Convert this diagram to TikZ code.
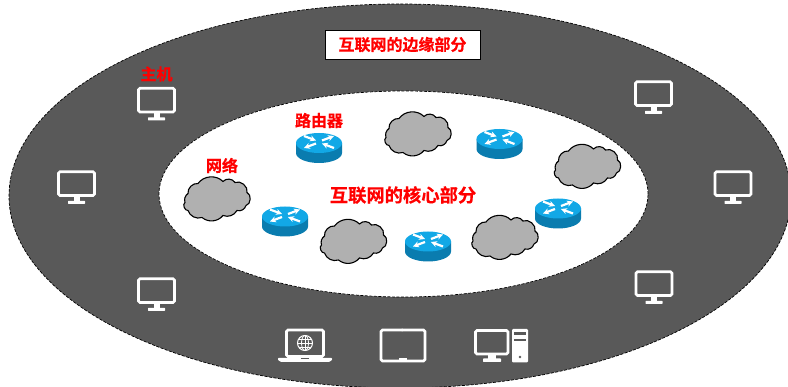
\documentclass[tikz,border=0pt]{standalone}
\usepackage{fontspec}
\usetikzlibrary{arrows.meta}
\setmainfont{Liberation Sans}
\newfontfamily\cjkbold[FakeBold=0.6]{Noto Sans CJK SC Bold}
\definecolor{darkring}{HTML}{595959}
\definecolor{cloudgray}{HTML}{B0B0B0}
\definecolor{routertop}{HTML}{12A8E6}
\definecolor{routerside}{HTML}{0A7CAF}
\definecolor{labelred}{HTML}{FF0000}
\tikzset{
  redlabel/.style={text=labelred,font=\cjkbold\fontsize{16pt}{18pt}\selectfont,inner sep=0pt},
  icon/.style={draw=white,line width=2.7pt,rounded corners=1.5pt},
  iconfill/.style={fill=white,rounded corners=0.6pt},
  ringedge/.style={draw=black,line width=0.7pt,dash pattern=on 3pt off 1.5pt},
  routerarrow/.style={white,line width=2.2pt,-{Stealth[length=6pt,width=6pt]}},
  monitor/.pic={
    \draw[icon] (-18,-15.3) rectangle (18,8.5);
    \fill[white] (-3,9) rectangle (3,15);
    \fill[iconfill] (-8.5,13.8) rectangle (8.5,17);
  },
  router/.pic={
    \fill[routerside] (-23,-5) -- (-23,5) arc[start angle=180,end angle=360,x radius=23pt,y radius=10pt] -- (23,-5) -- cycle;
    \fill[routertop] (0,-5) ellipse[x radius=23pt,y radius=10pt];
    \draw[routerarrow] (3,-7.5) -- (15,-12);
    \draw[routerarrow] (-3,-4.5) -- (-15,0);
    \draw[routerarrow] (-15,-12) -- (-3,-7.5);
    \draw[routerarrow] (15,0) -- (3,-4.5);
  },
  cloudshape/.pic={
    \draw[fill=cloudgray,draw=black,line width=1.1pt]
      (-31,3) to[bend left=35] (-28,-6)
      to[bend left=50] (-18,-16)
      to[bend left=50] (7,-18)
      to[bend left=55] (19,-17)
      to[bend left=65] (31,-7)
      to[bend left=75] (30,6)
      to[bend left=45] (21,11)
      to[bend left=40] (7,16)
      to[bend left=45] (-14,18)
      to[bend left=45] (-28,11)
      to[bend left=80] cycle;
  },
}
\begin{document}
\begin{tikzpicture}[x=1pt,y=-1pt]
\useasboundingbox (0,0) rectangle (788,387);
\fill[white] (0,0) rectangle (788,387);
\begin{scope}
  \clip (0,0) rectangle (788,387);
  \path[fill=darkring,ringedge] (400,196) ellipse[x radius=391pt,y radius=192pt];
\end{scope}
\path[fill=white,ringedge] (403.5,194) ellipse[x radius=244.5pt,y radius=103pt];

\node[draw=black,fill=white,line width=0.8pt,minimum width=155pt,minimum height=29pt,inner sep=0pt,text=labelred,font=\cjkbold\fontsize{16pt}{18pt}\selectfont] (edgelabel) at (402.5,44.5) {互联网的边缘部分};
\node[redlabel] (hostlabel) at (156.5,74) {主机};
\node[redlabel] (routerlabel) at (319,120.5) {路由器};
\node[redlabel] (netlabel) at (222,165.5) {网络};
\node[redlabel,font=\cjkbold\fontsize{18.3pt}{20pt}\selectfont] (corelabel) at (403,195) {互联网的核心部分};

\pic at (156.5,103.5) {monitor};
\pic at (653.5,97) {monitor};
\pic at (76.5,187) {monitor};
\pic at (733,187) {monitor};
\pic at (156.5,294) {monitor};
\pic at (654,287) {monitor};

\pic at (216,199.5) {cloudshape};
\pic at (352.5,242) {cloudshape};
\pic at (417,134.5) {cloudshape};
\pic at (586.5,167) {cloudshape};
\pic at (504,238) {cloudshape};

\pic at (319,148) {router};
\pic at (285,221.5) {router};
\pic at (428,246.5) {router};
\pic at (558,213.5) {router};
\pic at (499.5,144) {router};

% laptop
\draw[icon] (286.5,330) rectangle (323.5,356.5);
\fill[iconfill] (278,358) -- (332,358) -- (332,360) -- (329,362) -- (281,362) -- (278,360) -- cycle;
\fill[darkring] (301,358) rectangle (309,359.3);
\draw[white,line width=1pt] (305,343) circle[radius=7.5pt];
\draw[white,line width=0.8pt] (305,343) ellipse[x radius=3.5pt,y radius=7.5pt];
\draw[white,line width=0.8pt] (305,335.5) -- (305,350.5) (297.5,343) -- (312.5,343) (299,339) -- (311,339) (299,347) -- (311,347);
% tablet
\draw[icon] (381,330) rectangle (425,361);
\fill[white] (402,330) circle[radius=1.5pt];
\fill[white] (399,358.5) rectangle (407,361);
% desktop
\draw[icon] (475.5,330.5) rectangle (508,354);
\fill[white] (488,354) rectangle (496,360);
\fill[iconfill] (483,358.5) rectangle (501,362);
\fill[white,rounded corners=1.2pt] (512,329) rectangle (528,362.5);
\fill[darkring] (514,332) rectangle (526,335);
\fill[darkring] (514,339) rectangle (526,341.5);
\fill[darkring] (520,357) circle[radius=1.3pt];
\end{tikzpicture}
\end{document}
